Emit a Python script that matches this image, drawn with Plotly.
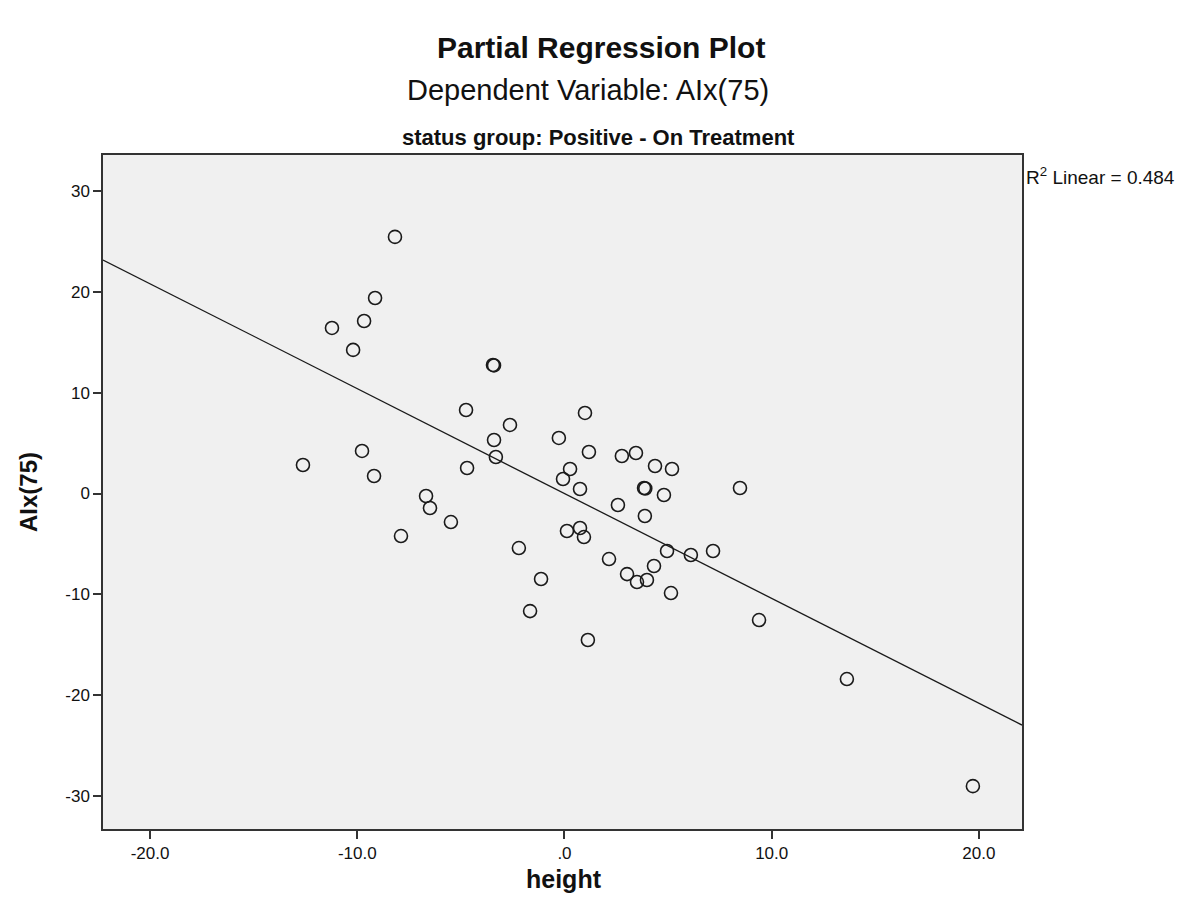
import plotly.graph_objects as go

# Partial residuals of height (x) and AIx(75) (y)
height = [-12.62, -11.22, -10.20, -9.67, -9.14, -9.77, -9.19, -8.18, -7.89, -6.68,
          -6.49, -5.48, -4.75, -4.70, -3.45, -3.40, -3.40, -3.31, -2.63, -2.20,
          -1.66, -1.13, -0.27, -0.07, 0.27, 0.12, 0.75, 0.75, 0.94, 0.99,
          1.18, 1.13, 2.15, 2.58, 2.77, 3.02, 3.45, 3.50, 3.84, 3.90,
          3.88, 3.98, 4.37, 4.32, 4.80, 4.95, 5.19, 5.14, 6.10, 7.17,
          8.47, 9.39, 13.63, 19.71]
aix75 = [2.83, 16.42, 14.24, 17.11, 19.39, 4.22, 1.74, 25.45, -4.22, -0.25,
         -1.44, -2.83, 8.28, 2.53, 12.75, 12.70, 5.31, 3.62, 6.80, -5.41,
         -11.66, -8.48, 5.51, 1.44, 2.43, -3.72, 0.45, -3.42, -4.32, 7.99,
         4.12, -14.53, -6.50, -1.14, 3.72, -7.99, 4.02, -8.78, 0.55, 0.50,
         -2.23, -8.58, 2.73, -7.19, -0.15, -5.70, 2.43, -9.87, -6.10, -5.70,
         0.55, -12.55, -18.40, -29.02]

# Fit line shown on the chart
fit_slope = -1.04
fit_intercept = 0.0
r_squared = 0.484

x_range = [-22.27, 22.08]
y_range = [-33.27, 33.57]
x_ticks = [-20, -10, 0, 10, 20]
x_tick_text = ["-20.0", "-10.0", ".0", "10.0", "20.0"]
y_ticks = [-30, -20, -10, 0, 10, 20, 30]
y_tick_text = ["-30", "-20", "-10", "0", "10", "20", "30"]

FONT = "Liberation Sans, Arial, sans-serif"
INK = "#111111"

W, H = 1195, 922
plot_left, plot_right, plot_top, plot_bottom = 103, 1022, 155, 829

fig = go.Figure()

fig.add_trace(go.Scatter(
    x=x_range,
    y=[fit_intercept + fit_slope * v for v in x_range],
    mode="lines",
    line=dict(color="#1a1a1a", width=1.3),
    hoverinfo="skip",
    showlegend=False,
))

fig.add_trace(go.Scatter(
    x=height, y=aix75,
    mode="markers",
    marker=dict(symbol="circle-open", size=13, color="#1a1a1a",
                line=dict(width=1.6, color="#1a1a1a")),
    showlegend=False,
))

axis_common = dict(
    showgrid=False, zeroline=False,
    showline=True, linecolor="#333333", linewidth=1.5, mirror=True,
    ticks="outside", ticklen=8, tickwidth=1.5, tickcolor="#333333",
    tickfont=dict(family=FONT, size=17, color=INK),
)

fig.update_xaxes(range=x_range, tickvals=x_ticks, ticktext=x_tick_text, **axis_common)
fig.update_yaxes(range=y_range, tickvals=y_ticks, ticktext=y_tick_text, **axis_common)


def px_x(px):
    return (px - plot_left) / (plot_right - plot_left)


def px_y(py):
    return (plot_bottom - py) / (plot_bottom - plot_top)


# Titles and axis labels placed in page pixels
labels = [
    dict(text="<b>Partial Regression Plot</b>", xpx=601, ypx=48, size=30, angle=0),
    dict(text="Dependent Variable: AIx(75)", xpx=588, ypx=90, size=29, angle=0),
    dict(text="<b>status group: Positive - On Treatment</b>", xpx=598, ypx=137, size=22, angle=0),
    dict(text="<b>height</b>", xpx=564, ypx=879, size=25, angle=0),
    dict(text="<b>AIx(75)</b>", xpx=28, ypx=492, size=24, angle=-90),
]
for a in labels:
    fig.add_annotation(
        text=a["text"], x=px_x(a["xpx"]), y=px_y(a["ypx"]),
        xref="paper", yref="paper", xanchor="center", yanchor="middle",
        textangle=a["angle"], showarrow=False,
        font=dict(family=FONT, size=a["size"], color=INK),
    )

fig.add_annotation(
    text=f"R<sup>2</sup> Linear = {r_squared}",
    x=px_x(1024), y=px_y(176),
    xref="paper", yref="paper", xanchor="left", yanchor="middle",
    showarrow=False, font=dict(family=FONT, size=19, color=INK),
)

fig.update_layout(
    width=W, height=H,
    margin=dict(l=plot_left, r=W - plot_right, t=plot_top, b=H - plot_bottom),
    paper_bgcolor="white", plot_bgcolor="#f0f0f0",
)

fig.write_html("out.html")
